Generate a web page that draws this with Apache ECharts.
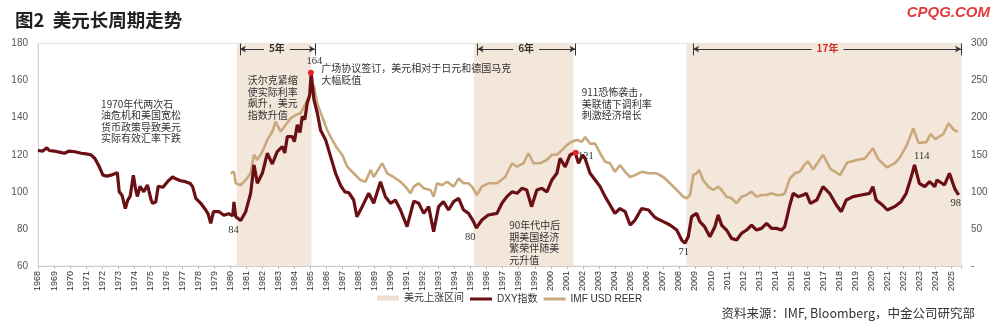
<!DOCTYPE html>
<html><head><meta charset="utf-8">
<script src="https://cdn.jsdelivr.net/npm/echarts@6/dist/echarts.min.js"></script>
<style>html,body{margin:0;padding:0;background:#fff}#c{width:1000px;height:333px}</style>
</head><body><div id="c"></div>
<script>
// DXY index [year, value] (left axis)
const dxy = [
[1968.0,122.3],[1968.3,122.0],[1968.55,123.8],[1968.7,122.3],[1969.0,122.0],[1969.4,121.3],[1969.65,120.8],[1969.95,122.0],
[1970.3,121.6],[1970.7,120.8],[1971.0,120.5],[1971.3,120.0],[1971.55,118.0],[1971.8,114.0],[1972.05,109.0],[1972.3,108.5],
[1972.55,109.0],[1972.95,110.3],[1973.07,100.0],[1973.25,98.0],[1973.45,91.0],[1973.6,95.5],[1973.75,97.5],[1973.95,109.0],
[1974.1,101.0],[1974.2,97.5],[1974.37,103.0],[1974.6,100.0],[1974.83,103.7],[1975.05,96.0],[1975.15,93.8],[1975.35,94.5],
[1975.5,103.0],[1975.8,102.5],[1976.08,105.5],[1976.4,108.0],[1976.6,107.0],[1976.9,106.0],[1977.2,105.5],[1977.5,104.5],
[1977.65,102.8],[1977.85,96.5],[1978.16,93.8],[1978.47,90.2],[1978.62,88.0],[1978.78,83.0],[1978.95,89.3],[1979.3,89.3],
[1979.6,87.4],[1979.9,88.2],[1980.15,87.0],[1980.23,94.6],[1980.34,86.6],[1980.65,84.5],[1980.96,89.3],[1981.27,99.2],
[1981.48,114.5],[1981.69,104.6],[1982.0,110.0],[1982.31,120.8],[1982.62,115.0],[1982.93,121.7],[1983.25,124.4],[1983.4,121.0],
[1983.56,129.8],[1983.87,129.8],[1984.0,127.0],[1984.18,136.2],[1984.35,132.0],[1984.49,140.6],[1984.65,139.0],[1984.8,147.9],
[1984.95,152.0],[1985.05,164.0],[1985.22,149.7],[1985.43,142.5],[1985.63,133.4],[1985.95,128.0],[1986.26,119.0],[1986.57,110.0],
[1986.88,103.5],[1987.15,100.0],[1987.4,99.5],[1987.7,95.6],[1987.9,86.6],[1988.23,92.0],[1988.64,99.2],[1988.95,93.8],
[1989.37,105.5],[1989.68,97.4],[1990.0,93.8],[1990.3,95.6],[1990.62,90.2],[1991.03,81.2],[1991.45,95.0],[1991.76,93.8],
[1992.07,88.4],[1992.38,92.0],[1992.69,78.5],[1993.0,92.0],[1993.3,94.7],[1993.62,90.2],[1993.94,94.7],[1994.25,96.5],
[1994.56,90.2],[1994.87,88.4],[1995.18,83.9],[1995.35,80.5],[1995.7,84.8],[1996.1,87.5],[1996.64,88.4],[1996.95,93.8],
[1997.26,97.4],[1997.58,100.0],[1997.89,99.2],[1998.2,101.9],[1998.5,101.0],[1998.8,92.0],[1999.13,101.0],[1999.44,101.9],
[1999.76,100.0],[2000.07,106.4],[2000.38,110.0],[2000.58,118.0],[2000.9,113.5],[2001.2,119.9],[2001.52,121.2],[2001.73,115.4],
[2001.98,119.9],[2002.14,118.0],[2002.45,110.0],[2002.77,106.4],[2003.08,102.8],[2003.39,97.4],[2003.7,92.9],[2004.0,88.4],
[2004.32,91.0],[2004.64,89.3],[2004.95,82.1],[2005.26,84.8],[2005.67,91.0],[2006.1,90.2],[2006.46,86.6],[2006.6,85.7],
[2007.02,83.9],[2007.44,82.1],[2007.86,79.4],[2008.17,74.0],[2008.37,72.3],[2008.58,75.8],[2008.79,86.6],[2009.1,88.4],
[2009.3,83.9],[2009.6,81.2],[2009.93,75.8],[2010.24,81.2],[2010.45,87.5],[2010.66,82.1],[2010.97,79.4],[2011.28,74.9],
[2011.6,74.0],[2011.9,77.6],[2012.22,79.4],[2012.53,82.1],[2012.84,79.4],[2013.15,80.3],[2013.47,83.0],[2013.78,80.3],
[2014.09,80.3],[2014.4,79.4],[2014.6,81.2],[2014.92,92.9],[2015.13,99.2],[2015.44,97.4],[2015.75,98.3],[2015.95,99.2],
[2016.2,93.8],[2016.6,95.6],[2016.99,102.8],[2017.4,99.2],[2017.82,92.9],[2018.13,89.3],[2018.44,95.6],[2018.86,97.4],
[2019.38,98.3],[2019.9,99.2],[2020.1,102.8],[2020.3,95.6],[2020.7,92.9],[2021.0,90.2],[2021.45,92.0],[2021.86,94.7],
[2022.18,99.2],[2022.5,108.2],[2022.7,114.5],[2023.0,104.6],[2023.34,102.8],[2023.64,105.5],[2023.96,102.8],[2024.1,106.4],
[2024.57,103.7],[2024.88,110.0],[2025.2,101.9],[2025.45,98.3]
];
// IMF USD REER [year, value] (right axis)
const reer = [
[1980.02,125],[1980.23,127],[1980.34,111.5],[1980.65,109],[1980.96,116],[1981.27,125],[1981.48,150],[1981.69,143],
[1982.0,154],[1982.31,170],[1982.62,181],[1982.83,194.5],[1983.14,181],[1983.45,190],[1983.76,199],[1984.07,203.5],
[1984.39,206],[1984.7,219],[1985.01,233],[1985.2,244],[1985.43,219],[1985.74,201],[1986.05,183],[1986.36,170],
[1986.67,158.7],[1986.98,150],[1987.3,134],[1987.7,125],[1988.12,116],[1988.44,113.6],[1988.75,129.4],[1988.95,120],
[1989.48,138.5],[1989.79,125],[1990.2,120],[1990.62,113.6],[1990.93,107],[1991.24,98],[1991.45,107],[1991.76,111.5],
[1992.07,104.8],[1992.49,102.5],[1992.69,93.4],[1992.9,111.5],[1993.21,109],[1993.53,113.6],[1993.94,107],[1994.25,118],
[1994.56,111.5],[1994.87,111.5],[1995.08,107],[1995.39,95.7],[1995.7,107],[1996.1,111.5],[1996.64,111.5],[1997.16,120],
[1997.58,138.5],[1997.89,134],[1998.3,138.5],[1998.61,152],[1998.92,138.5],[1999.34,138.5],[1999.76,143],[2000.07,150],
[2000.38,150],[2000.69,156],[2001.0,163],[2001.31,167.6],[2001.62,170],[2001.94,167.6],[2002.14,174],[2002.45,165],
[2002.77,165],[2003.08,152],[2003.39,140.6],[2003.7,138.5],[2004.0,127],[2004.32,136],[2004.64,127],[2004.95,120],
[2005.26,122.5],[2005.67,127],[2006.1,125],[2006.6,125],[2007.02,120],[2007.44,111.5],[2007.86,102.5],[2008.27,93.4],
[2008.48,91.3],[2008.69,95.7],[2008.9,122.7],[2009.1,125],[2009.26,129.4],[2009.5,116],[2009.83,107],[2010.14,102.5],
[2010.45,107],[2010.66,102.5],[2010.97,93.4],[2011.28,91.3],[2011.6,84.5],[2011.9,93.4],[2012.22,95.7],[2012.53,100.2],
[2012.84,93.4],[2013.15,95.7],[2013.47,95.7],[2013.78,98],[2014.09,95.7],[2014.4,95.7],[2014.6,98],[2014.92,118],
[2015.23,125],[2015.54,127],[2015.85,137],[2016.05,141],[2016.37,130],[2016.99,150],[2017.45,131],[2018.05,122.7],
[2018.5,139.5],[2019.1,143],[2019.6,145],[2020.1,158.7],[2020.44,144],[2020.98,133],[2021.5,139],[2021.8,147],
[2022.2,162],[2022.62,185.6],[2022.95,166],[2023.44,167],[2023.7,178],[2024.0,171],[2024.5,178],[2024.82,192.4],
[2025.15,183.5],[2025.4,181]
];
const upBands = [[1980.41,1985.07],[1995.2,2001.42],[2008.47,2025.6]];
const spanTexts = ['5年','6年','17年'];
const spans = [[1980.6,1985.28],[1995.43,2001.54],[2008.88,2025.6]];
const spanTextAt = [1982.94,1998.49,2017.3];
const peakDots = [[1985.03,164.2],[2001.56,121.1]];
const valueLabels = [['164',1985.28,170],['84',1980.23,78.9],['80',1995.01,75.5],['121',2002.22,118.9],['71',2008.33,67.2],['114',2023.18,118.9],['98',2025.31,93.8]];
const notes = [
  ['1970年代两次石\n油危机和美国宽松\n货币政策导致美元\n实际有效汇率下跌',1971.97,150.1],
  ['沃尔克紧缩\n使实际利率\n飙升，美元\n指数升值',1981.12,163],
  ['广场协议签订，美元相对于日元和德国马克\n大幅贬值',1985.7,169.5],
  ['911恐怖袭击，\n美联储下调利率\n刺激经济增长',2001.96,156.5],
  ['90年代中后\n期美国经济\n繁荣伴随美\n元升值',1997.44,84.8]
];
const leftTicks = {min:60,max:180,interval:20};
const rightTicks = {min:0,max:300,interval:50};

const BAND = '#f3e6da';
const CJK = '"Noto Sans CJK SC"';
const chart = echarts.init(document.getElementById('c'), null, {renderer:'canvas'});

const markLineData = [];
spans.forEach((s,i)=>{
  markLineData.push([{coord:[s[0],177], symbol:'arrow'},{coord:[s[1],177], symbol:'arrow'}]);
  markLineData.push([{coord:[s[0],180], symbol:'none'},{coord:[s[0],173.6], symbol:'none'}]);
  markLineData.push([{coord:[s[1],180], symbol:'none'},{coord:[s[1],173.6], symbol:'none'}]);
});

const noteData = [];
notes.forEach(n=>noteData.push({coord:[n[1],n[2]], symbol:'rect', symbolSize:1, itemStyle:{color:'rgba(0,0,0,0)'},
  label:{show:true, position:[0,0], align:'left', verticalAlign:'top', formatter:n[0], fontSize:10, lineHeight:11.5, fontFamily:CJK, color:'#333'}}));
valueLabels.forEach(v=>noteData.push({coord:[v[1],v[2]], symbol:'rect', symbolSize:1, itemStyle:{color:'rgba(0,0,0,0)'},
  label:{show:true, position:[0,0], align:'center', verticalAlign:'middle', formatter:v[0], fontSize:10.5, fontFamily:'"Liberation Serif"', color:'#333'}}));

const topData = peakDots.map(p=>({coord:p, symbol:'circle', symbolSize:6, itemStyle:{color:'#e8262a'}, label:{show:false}}));
spanTexts.forEach((t,i)=>topData.push({coord:[spanTextAt[i],177], symbol:'rect', symbolSize:1, itemStyle:{color:'rgba(0,0,0,0)'},
  label:{show:true, position:[0,0], align:'center', verticalAlign:'middle', formatter:t, fontSize:10, fontWeight:'bold', fontFamily:CJK,
    color: i===2?'#d0302e':'#333', backgroundColor:BAND, padding:[1,5]}}));

const legendText = {fontSize:10, color:'#333', fontFamily:'"Liberation Sans",'+CJK};
chart.setOption({
  animation:false,
  backgroundColor:'#fff',
  title:{text:'图2  美元长周期走势', left:10, top:6, textStyle:{fontSize:18.5, fontWeight:'bold', fontFamily:CJK, color:'#222'}},
  graphic:[
    {type:'text', right:10, top:5, style:{text:'CPQG.COM', font:'italic bold 15px "Liberation Sans"', fill:'#e23b3b'}},
    {type:'text', right:25, top:307, style:{text:'资料来源：IMF, Bloomberg，中金公司研究部', font:'12.5px '+CJK, fill:'#333'}}
  ],
  legend:[
    {left:377, top:293, padding:0, itemWidth:22, itemHeight:5, textStyle:legendText,
      data:[{name:'美元上涨区间', icon:'rect'}]},
    {left:470, top:294, padding:0, itemWidth:22, itemHeight:3, itemGap:6, textStyle:legendText,
      data:[{name:'DXY指数', icon:'rect'}, {name:'IMF USD REER', icon:'rect'}]}
  ],
  grid:{left:38, right:39, top:43.5, bottom:67, show:true, borderColor:'#e2e2e2', borderWidth:1},
  xAxis:{type:'value', min:1968, max:2025.6, interval:1,
    axisLine:{show:true, lineStyle:{color:'#cfcfcf'}}, axisTick:{show:true, length:3, lineStyle:{color:'#bdbdbd'}},
    splitLine:{show:false},
    axisLabel:{rotate:90, fontSize:9, color:'#333', margin:5, fontFamily:'"Liberation Sans"',
      formatter:v=>Math.abs(v-Math.round(v))<1e-6?String(Math.round(v)):''}},
  yAxis:[
    {type:'value', min:leftTicks.min, max:leftTicks.max, interval:leftTicks.interval, position:'left',
      axisLine:{show:true, lineStyle:{color:'#d5d5d5'}}, axisTick:{show:false}, splitLine:{show:false},
      axisLabel:{fontSize:10, color:'#555', margin:10, fontFamily:'"Liberation Sans"'}},
    {type:'value', min:rightTicks.min, max:rightTicks.max, interval:rightTicks.interval, position:'right',
      axisLine:{show:false}, axisTick:{show:false}, splitLine:{show:false},
      axisLabel:{fontSize:10, color:'#555', margin:10, fontFamily:'"Liberation Sans"', formatter:v=>v===0?'-':String(v)}}
  ],
  series:[
    {name:'美元上涨区间', type:'line', data:[], z:1, symbol:'none',
      itemStyle:{color:'#efdfd0'}, lineStyle:{color:'#efdfd0'},
      markArea:{silent:true, itemStyle:{color:BAND, opacity:1}, data:upBands.map(b=>[{xAxis:b[0]},{xAxis:b[1]}])},
      markLine:{silent:true, symbolSize:[5,6], lineStyle:{color:'#333', width:1, type:'solid'}, label:{show:false}, data:markLineData},
      markPoint:{silent:true, data:noteData}
    },
    {name:'IMF USD REER', type:'line', yAxisIndex:1, data:reer, symbol:'none', z:3,
      lineStyle:{color:'#c9a87c', width:2.6}, itemStyle:{color:'#c9a87c'}},
    {name:'DXY指数', type:'line', yAxisIndex:0, data:dxy, symbol:'none', z:4,
      lineStyle:{color:'#6a0f14', width:3.2}, itemStyle:{color:'#6a0f14'},
      markPoint:{silent:true, data:topData}
    }
  ]
});
</script></body></html>
